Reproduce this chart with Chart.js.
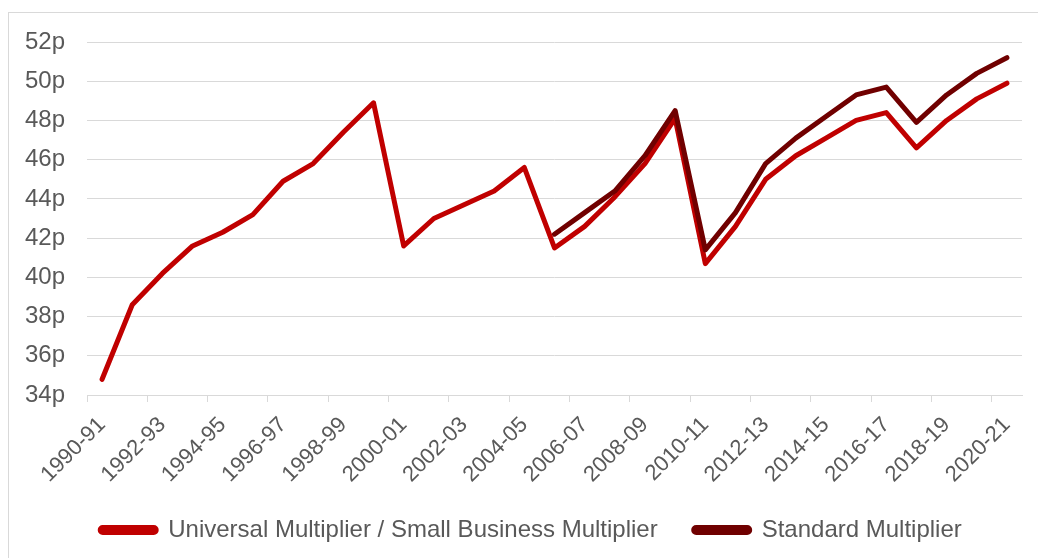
<!DOCTYPE html>
<html>
<head>
<meta charset="utf-8">
<script src="https://cdn.jsdelivr.net/npm/chart.js@4.4.1/dist/chart.umd.min.js"></script>
<style>
  html, body { margin: 0; padding: 0; background: #fff; overflow: hidden; }
  #frame { position: absolute; left: 8px; top: 12px; width: 1040px; height: 560px; border: 1px solid #d9d9d9; }
  #wrap { position: absolute; left: 0; top: 0; width: 1038px; height: 558px; }
</style>
</head>
<body>
<div id="frame"></div>
<div id="wrap"><canvas id="chart"></canvas></div>
<script>
const years = ['1990-91', '1991-92', '1992-93', '1993-94', '1994-95', '1995-96', '1996-97', '1997-98',
  '1998-99', '1999-00', '2000-01', '2001-02', '2002-03', '2003-04', '2004-05', '2005-06', '2006-07',
  '2007-08', '2008-09', '2009-10', '2010-11', '2011-12', '2012-13', '2013-14', '2014-15', '2015-16',
  '2016-17', '2017-18', '2018-19', '2019-20', '2020-21'];

const universal = [34.8, 38.6, 40.2, 41.6, 42.3, 43.2, 44.9, 45.8, 47.4, 48.9, 41.6, 43.0, 43.7, 44.4,
  45.6, 41.5, 42.6, 44.1, 45.8, 48.1, 40.7, 42.6, 45.0, 46.2, 47.1, 48.0, 48.4, 46.6, 48.0, 49.1, 49.9];

const standard = [null, null, null, null, null, null, null, null, null, null, null, null, null, null,
  null, 42.2, 43.3, 44.4, 46.2, 48.5, 41.4, 43.3, 45.8, 47.1, 48.2, 49.3, 49.7, 47.9, 49.3, 50.4, 51.2];

const yTicks = [34, 36, 38, 40, 42, 44, 46, 48, 50, 52];

const textColor = '#595959';
const gridColor = '#d9d9d9';
const fontFamily = '"Liberation Sans", Arial, sans-serif';

// the legend in the original sits a little right of the plot centre
const legendShift = {
  id: 'legendShift',
  afterLayout(chart) {
    chart.legend.left += 10;
    chart.legend.right += 10;
  },
};

const ctx = document.getElementById('chart');
new Chart(ctx, {
  type: 'line',
  data: {
    labels: years,
    datasets: [
      {
        label: 'Universal Multiplier / Small Business Multiplier',
        data: universal,
        borderColor: '#c00000',
        backgroundColor: '#c00000',
        borderWidth: 5,
        borderCapStyle: 'round',
        borderJoinStyle: 'round',
        pointRadius: 0,
        tension: 0,
        order: 1,
      },
      {
        label: 'Standard Multiplier',
        data: standard,
        borderColor: '#700000',
        backgroundColor: '#700000',
        borderWidth: 5,
        borderCapStyle: 'round',
        borderJoinStyle: 'round',
        pointRadius: 0,
        tension: 0,
        order: 0,
      },
    ],
  },
  plugins: [legendShift],
  options: {
    responsive: true,
    maintainAspectRatio: false,
    animation: false,
    layout: { padding: { left: 20, right: 16, top: 42, bottom: 6 } },
    plugins: {
      tooltip: { enabled: false },
      legend: {
        position: 'bottom',
        labels: {
          boxWidth: 56,
          boxHeight: 5,
          padding: 36,
          useBorderRadius: true,
          borderRadius: 2.5,
          color: textColor,
          font: { family: fontFamily, size: 24 },
          sort: (a, b) => a.datasetIndex - b.datasetIndex,
        },
      },
    },
    scales: {
      x: {
        offset: true,
        afterFit: (scale) => {
          scale.height = 87;
        },
        grid: {
          offset: true,
          drawOnChartArea: false,
          drawTicks: true,
          tickLength: 7,
          color: (c) => (c.index % 2 === 0 ? gridColor : 'rgba(0,0,0,0)'),
        },
        border: { display: true, color: gridColor },
        ticks: {
          autoSkip: false,
          maxRotation: 45,
          minRotation: 45,
          padding: 10,
          color: textColor,
          font: { family: fontFamily, size: 22 },
          callback: function (value, index) {
            return index % 2 === 0 ? years[index] : '';
          },
        },
      },
      y: {
        min: yTicks[0],
        max: yTicks[yTicks.length - 1],
        afterBuildTicks: (scale) => {
          scale.ticks = yTicks.map((v) => ({ value: v }));
        },
        grid: { color: gridColor, drawTicks: false },
        border: { display: false },
        afterFit: (scale) => {
          scale.width = 67;
        },
        ticks: {
          padding: 22,
          color: textColor,
          font: { family: fontFamily, size: 24 },
          callback: (v) => v + 'p',
        },
      },
    },
  },
});
</script>
</body>
</html>
